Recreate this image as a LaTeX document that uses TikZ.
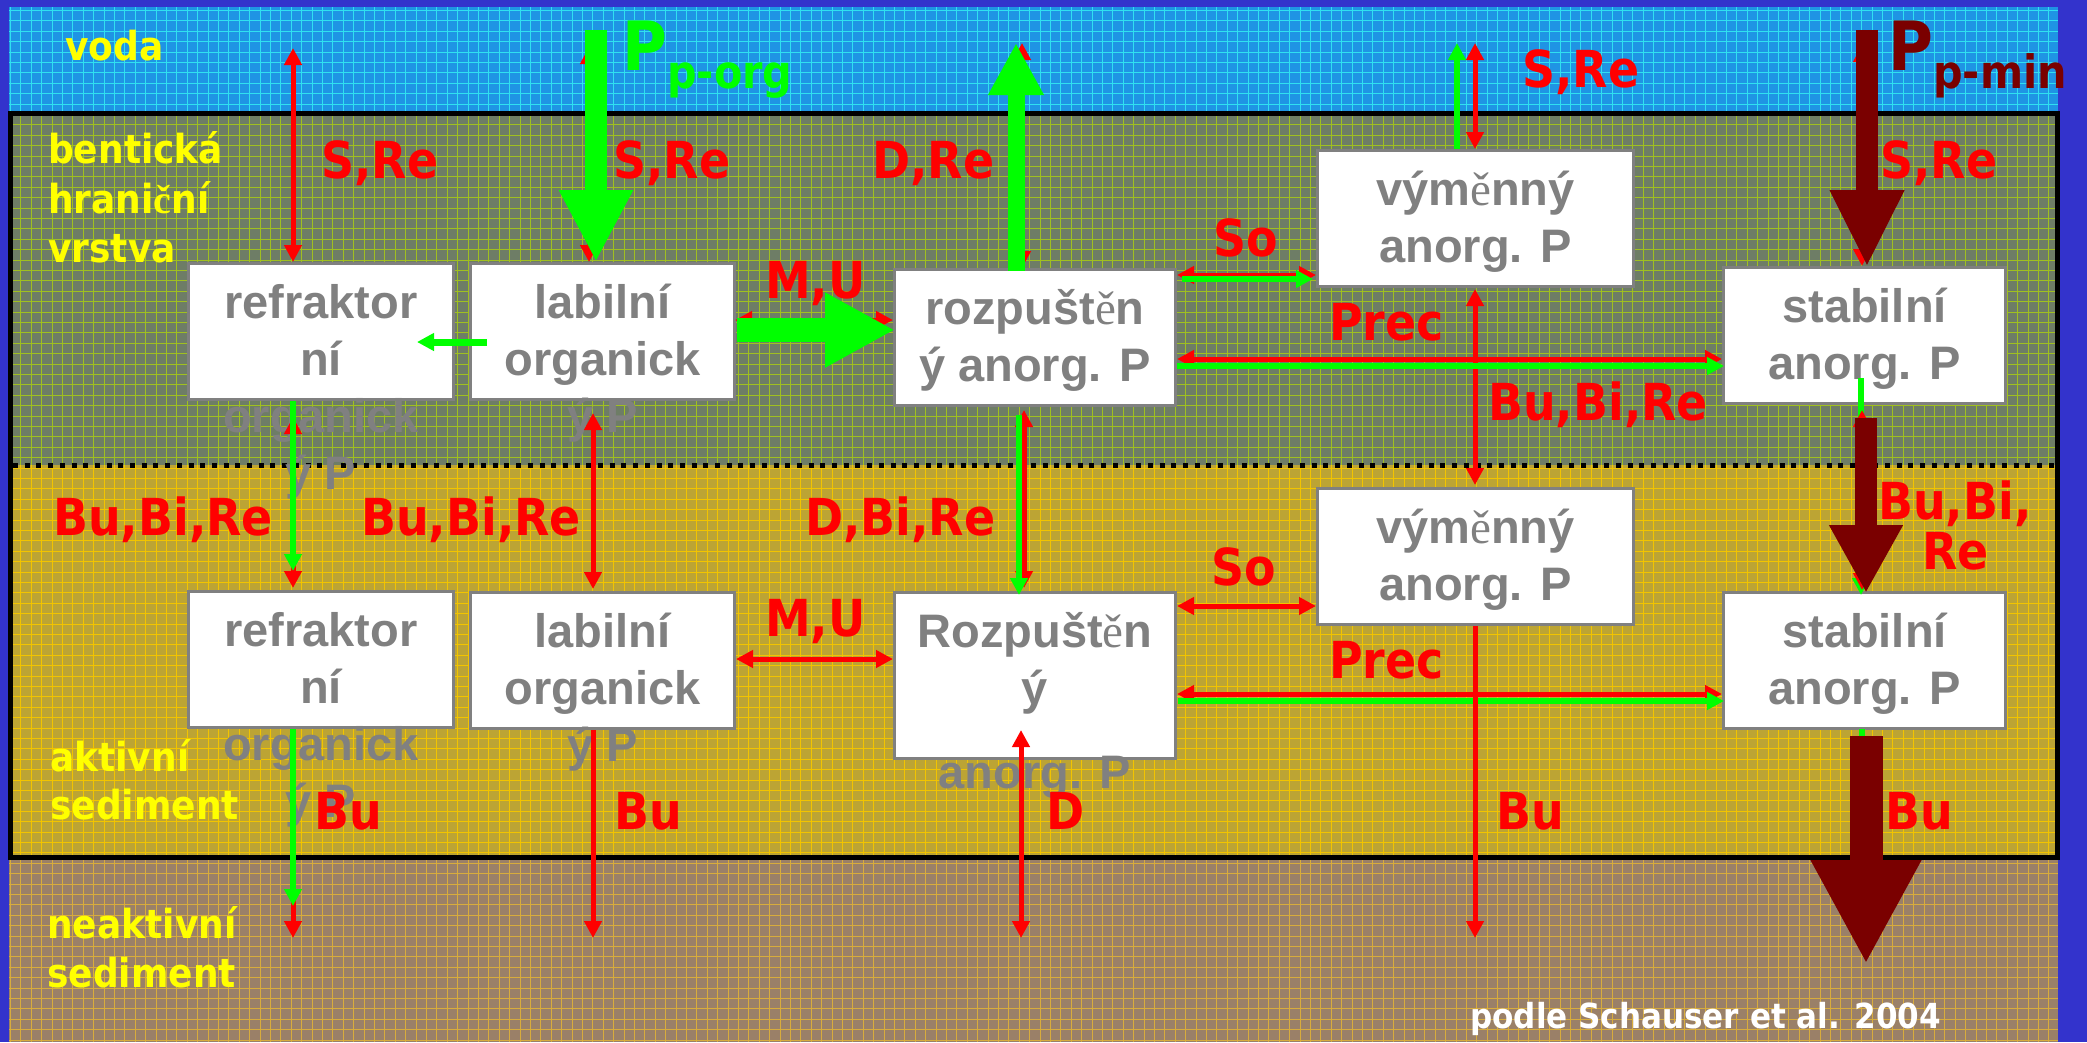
\documentclass[tikz,border=0pt]{standalone}
\usepackage{fontspec}
\setmainfont{Liberation Sans}
\newfontfamily\boxfont{Liberation Sans}
\newfontfamily\lblfont{DejaVu Sans}[FakeStretch=0.9]
\newfontfamily\accfont{Liberation Serif}
\usetikzlibrary{arrows.meta}
\definecolor{bordblue}{HTML}{3333CC}
\definecolor{waterc}{HTML}{1F94E4}
\definecolor{watergrid}{HTML}{30E0F0}
\definecolor{bentc}{HTML}{6E7D66}
\definecolor{bentgrid}{HTML}{A0C020}
\definecolor{activc}{HTML}{BCA434}
\definecolor{activgrid}{HTML}{F2C400}
\definecolor{neakc}{HTML}{9A8068}
\definecolor{neakgrid}{HTML}{D8AC3C}
\definecolor{boxgray}{HTML}{808080}
\definecolor{lred}{HTML}{FF0000}
\definecolor{lgreen}{HTML}{00FF00}
\definecolor{maroon}{HTML}{7A0000}
\definecolor{lyellow}{HTML}{FFFF00}
\begin{document}
\begin{tikzpicture}[x=1pt,y=-1pt,
  box/.style={draw=boxgray, line width=3pt, fill=white, anchor=north west, inner sep=0pt, minimum height=136pt},
  btext/.style={font=\boxfont\bfseries\fontsize{47pt}{57pt}\selectfont, text=boxgray, align=center, anchor=north, inner sep=0pt},
  lbl/.style={font=\lblfont\bfseries\fontsize{51pt}{55pt}\selectfont, text=lred, anchor=base west, inner sep=0pt},
  ylbl/.style={font=\lblfont\bfseries\fontsize{40pt}{46pt}\selectfont, text=lyellow, anchor=base west, inner sep=0pt},
  rdbl/.style={draw=lred, line width=5pt, {Triangle[length=17pt,width=17pt]}-{Triangle[length=17pt,width=17pt]}},
  rone/.style={draw=lred, line width=5pt, -{Triangle[length=17pt,width=17pt]}},
  gone/.style={draw=lgreen, line width=6pt, -{Triangle[length=17pt,width=17pt]}},
  bigarrow/.style args={#1/#2/#3/#4}{draw=#1, line width=#2, -{Triangle[length=#3,width=#4]}},
  gridlines/.style={line width=1pt, step=10.4pt}
]
\useasboundingbox (0,0) rectangle (2087,1042);
\fill[bordblue] (0,0) rectangle (2087,1042);
% layers
\fill[waterc] (9,7) rectangle (2058,113);
\begin{scope}\clip (9,7) rectangle (2058,113);
\draw[watergrid, gridlines] (9,113) grid (2058,7);\end{scope}
\fill[bentc] (9,113) rectangle (2058,465);
\begin{scope}\clip (9,113) rectangle (2058,465);
\draw[bentgrid, gridlines] (9,465) grid (2058,113);\end{scope}
\fill[activc] (9,465) rectangle (2058,857);
\begin{scope}\clip (9,465) rectangle (2058,857);
\draw[activgrid, gridlines] (9,857) grid (2058,465);\end{scope}
\fill[neakc] (9,857) rectangle (2058,1042);
\begin{scope}\clip (9,857) rectangle (2058,1042);
\draw[neakgrid, gridlines] (9,1042) grid (2058,857);\end{scope}
\draw[line width=5pt, dash pattern=on 5pt off 6.7pt] (13,465) -- (2055,465);
\draw[line width=5pt] (10.5,113.5) rectangle (2057.5,857.5);

% boxes
\node[box, minimum width=265pt] (refT) at (187,262) {};
\node[box, minimum width=264pt] (labT) at (469,262) {};
\node[box, minimum width=281pt] (rozT) at (893,268) {};
\node[box, minimum width=316pt] (vymT) at (1316,149) {};
\node[box, minimum width=282pt] (stabT) at (1722,266) {};
\node[box, minimum width=265pt] (refB) at (187,590) {};
\node[box, minimum width=264pt] (labB) at (469,591) {};
\node[box, minimum width=281pt, minimum height=166pt] (rozB) at (893,591) {};
\node[box, minimum width=316pt] (vymB) at (1316,487) {};
\node[box, minimum width=282pt] (stabB) at (1722,591) {};

% box texts
\node[btext] (refTt) at ([yshift=-8pt]refT.north) {\rule{0pt}{48pt}refraktor\\ní\\organick\\ý P};
\node[btext] (labTt) at ([yshift=-8pt]labT.north) {\rule{0pt}{48pt}labilní\\organick\\ý P};
\node[btext] (rozTt) at ([yshift=-8pt]rozT.north) {\rule{0pt}{48pt}rozpušt{\accfont\mdseries ě}n\\ý anorg. P};
\node[btext] (vymTt) at ([yshift=-8pt]vymT.north) {\rule{0pt}{48pt}vým{\accfont\mdseries ě}nný\\anorg. P};
\node[btext] (stabTt) at ([yshift=-8pt]stabT.north) {\rule{0pt}{48pt}stabilní\\anorg. P};
\node[btext] (refBt) at ([yshift=-8pt]refB.north) {\rule{0pt}{48pt}refraktor\\ní\\organick\\ý P};
\node[btext] (labBt) at ([yshift=-8pt]labB.north) {\rule{0pt}{48pt}labilní\\organick\\ý P};
\node[btext] (rozBt) at ([yshift=-8pt]rozB.north) {\rule{0pt}{48pt}Rozpušt{\accfont\mdseries ě}n\\ý\\[27pt]anorg. P};
\node[btext] (vymBt) at ([yshift=-8pt]vymB.north) {\rule{0pt}{48pt}vým{\accfont\mdseries ě}nný\\anorg. P};
\node[btext] (stabBt) at ([yshift=-8pt]stabB.north) {\rule{0pt}{48pt}stabilní\\anorg. P};

% free ends
\coordinate (w1) at (293,48);
\coordinate (w2) at (589,47);
\coordinate (w3) at (596,30);
\coordinate (w4) at (1022,43);
\coordinate (w5) at (1016,43);
\coordinate (w6) at (1475,43);
\coordinate (w7) at (1457,43);
\coordinate (w8) at (1862,45);
\coordinate (w9) at (1867,30);
\coordinate (n1) at (293,938);
\coordinate (n1g) at (293,906);
\coordinate (n2) at (593,938);
\coordinate (n3) at (1021,938);
\coordinate (n4) at (1475,938);
\coordinate (n5) at (1862,938);
\coordinate (n5g) at (1862,905);
\coordinate (n5m) at (1866,964);

% top (water) exchanges
\draw[rdbl] (w1) -- (w1 |- refT.north);
\draw[rdbl] (w2) -- (w2 |- labT.north);
\draw[bigarrow=lgreen/22pt/72pt/69pt] (w3) -- (w3 |- labT.north);
\draw[rdbl] (w4) -- (w4 |- rozT.north);
\draw[bigarrow=lgreen/17pt/52pt/52pt] (1016,271) -- (w5);
\draw[rdbl] (w6) -- (w6 |- vymT.north);
\draw[gone] (w7 |- vymT.north) -- (w7);
\draw[rdbl] (w8) -- (w8 |- stabT.north);
\draw[bigarrow=maroon/22pt/77pt/69pt] (w9) -- (1867,267);

% horizontal, upper layer
\draw[gone, line width=7pt] (487,342) -- (417,342);
\draw[rdbl] (735,320) -- (rozT.west |- 0,320);
\draw[bigarrow=lgreen/24pt/70pt/70pt] (737,330) -- (895,330);
\draw[rdbl] (rozT.east |- 0,275) -- (vymT.west |- 0,275);
\draw[gone] (1182,279) -- (1313,279);
\draw[rdbl] (1475,289) -- (1475,485);
\draw[rdbl] (rozT.east |- 0,359) -- (stabT.west |- 0,359);
\draw[gone] (rozT.east |- 0,366) -- (1724,366);

% vertical, upper to lower layer
\draw[rdbl] (293,417) -- (293,588);
\draw[gone] (refT.south -| 293,0) -- (293,571);
\draw[rdbl] (593,413) -- (593,589);
\draw[rdbl] (1024,410) -- (1024,588);
\draw[gone] (1019,415) -- (1019,595);
\draw[gone] (1861,378) -- (1861,595);
\draw[rdbl] (1862,410) -- (1862,590);
\draw[bigarrow=maroon/22pt/68pt/69pt] (1866,418) -- (1866,593);

% horizontal, lower layer
\draw[rdbl] (labB.east |- 0,659) -- (rozB.west |- 0,659);
\draw[rdbl] (rozB.east |- 0,606) -- (vymB.west |- 0,606);
\draw[rdbl] (rozB.east |- 0,694) -- (stabB.west |- 0,694);
\draw[gone] (1178,701) -- (1724,701);

% down to inactive sediment
\draw[rone] (refB.south -| n1) -- (n1);
\draw[gone] (refB.south -| n1) -- (n1g);
\draw[rone] (labB.south -| n2) -- (n2);
\draw[rdbl] (1021,730) -- (n3);
\draw[rone] (vymB.south -| n4) -- (n4);
\draw[rdbl] (stabB.south -| n5) -- (n5);
\draw[gone] (1862,729) -- (n5g);
\draw[bigarrow=maroon/33pt/104pt/103pt] (1866,736) -- (n5m);

% P inputs
\node[font=\lblfont\bfseries\fontsize{68pt}{70pt}\selectfont, text=lgreen, anchor=base west, inner sep=0pt] (porg) at (622,70) {P};
\node[font=\lblfont\bfseries\fontsize{46pt}{50pt}\selectfont, text=lgreen, anchor=base west, inner sep=0pt] (porgs) at (667,88) {p-org};
\node[font=\lblfont\bfseries\fontsize{68pt}{70pt}\selectfont, text=maroon, anchor=base west, inner sep=0pt] (pmin) at (1888,70) {P};
\node[font=\lblfont\bfseries\fontsize{46pt}{50pt}\selectfont, text=maroon, anchor=base west, inner sep=0pt] (pmins) at (1933,88) {p-min};

% layer labels
\node[ylbl] (voda) at (65,60) {voda};
\node[ylbl] (bent1) at (48,163) {bentická};
\node[ylbl] (bent2) at (48,213) {hrani{\accfont č}ní};
\node[ylbl] (bent3) at (48,262) {vrstva};
\node[ylbl] (akt1) at (50,771) {aktivní};
\node[ylbl] (akt2) at (50,819) {sediment};
\node[ylbl] (neakt1) at (47,938) {neaktivní};
\node[ylbl] (neakt2) at (47,987) {sediment};
\node[ylbl, text=white, font=\lblfont\bfseries\fontsize{34.5pt}{40pt}\selectfont] (src) at (1470,1028) {podle Schauser et al. 2004};

% process labels
\node[lbl] (sre1) at (321,178) {S,Re};
\node[lbl] (sre2) at (613,178) {S,Re};
\node[lbl] (dre) at (872,178) {D,Re};
\node[lbl] (sre3) at (1522,87) {S,Re};
\node[lbl] (sre4) at (1880,178) {S,Re};
\node[lbl] (mu1) at (765,298) {M,U};
\node[lbl] (so1) at (1213,256) {So};
\node[lbl] (prec1) at (1329,340) {Prec};
\node[lbl] (bbr1) at (1488,420) {Bu,Bi,Re};
\node[lbl] (bbr2) at (53,535) {Bu,Bi,Re};
\node[lbl] (bbr3) at (361,535) {Bu,Bi,Re};
\node[lbl] (dbr) at (805,535) {D,Bi,Re};
\node[lbl] (mu2) at (765,636) {M,U};
\node[lbl] (so2) at (1211,585) {So};
\node[lbl] (prec2) at (1329,678) {Prec};
\node[lbl] (bbr4a) at (1878,519) {Bu,Bi,};
\node[lbl] (bbr4b) at (1922,569) {Re};
\node[lbl] (bu1) at (314,829) {Bu};
\node[lbl] (bu2) at (614,829) {Bu};
\node[lbl] (d2) at (1046,829) {D};
\node[lbl] (bu3) at (1496,829) {Bu};
\node[lbl] (bu4) at (1885,829) {Bu};
\end{tikzpicture}
\end{document}
